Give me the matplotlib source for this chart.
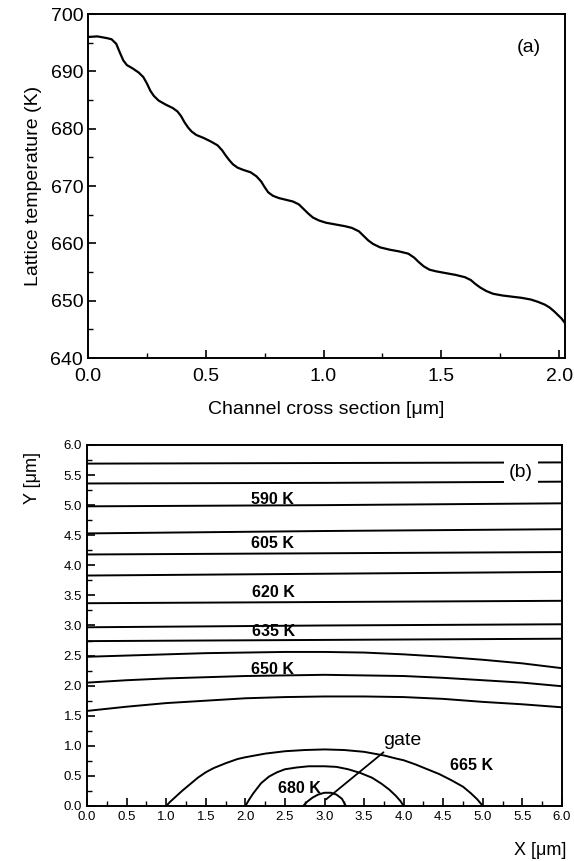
import matplotlib
matplotlib.use("Agg")
import matplotlib.pyplot as plt
from matplotlib.ticker import MultipleLocator

plt.rcParams['font.family'] = ['Liberation Sans', 'DejaVu Sans']

# (a) lattice temperature along the channel
chan_x = [0.00, 0.04, 0.08, 0.10, 0.12, 0.135, 0.15, 0.165, 0.19, 0.215, 0.235, 0.25,
          0.265, 0.28, 0.30, 0.33, 0.36, 0.38, 0.395, 0.41, 0.425, 0.44, 0.46, 0.49,
          0.52, 0.55, 0.57, 0.585, 0.60, 0.615, 0.635, 0.66, 0.69, 0.715, 0.735, 0.75,
          0.765, 0.785, 0.81, 0.84, 0.87, 0.895, 0.915, 0.935, 0.955, 0.98, 1.01, 1.05,
          1.09, 1.12, 1.15, 1.17, 1.19, 1.21, 1.24, 1.28, 1.32, 1.36, 1.385, 1.405,
          1.425, 1.45, 1.48, 1.52, 1.56, 1.60, 1.625, 1.645, 1.665, 1.69, 1.72, 1.76,
          1.80, 1.84, 1.88, 1.91, 1.94, 1.96, 1.98, 1.995, 2.01, 2.025]
chan_t = [696.0, 696.1, 695.8, 695.6, 694.8, 693.3, 691.9, 691.1, 690.5, 689.8, 689.0, 687.9,
          686.6, 685.7, 684.9, 684.2, 683.6, 683.0, 682.2, 681.1, 680.2, 679.5, 678.9, 678.4,
          677.8, 677.1, 676.2, 675.3, 674.5, 673.8, 673.2, 672.8, 672.4, 671.7, 670.8, 669.8,
          668.9, 668.3, 667.9, 667.6, 667.3, 666.8, 666.0, 665.2, 664.5, 664.0, 663.6, 663.3,
          663.0, 662.7, 662.1, 661.3, 660.5, 659.9, 659.3, 658.9, 658.6, 658.2, 657.5, 656.7,
          656.0, 655.4, 655.1, 654.8, 654.5, 654.1, 653.6, 652.9, 652.3, 651.7, 651.2, 650.9,
          650.7, 650.5, 650.2, 649.8, 649.3, 648.8, 648.1, 647.5, 646.9, 646.1]

# (b) isotherms: nearly flat lines (y at x = 0, 3, 6)
flat_x = [0.0, 3.0, 6.0]
flat_lines = [
    [5.69, 5.70, 5.71],
    [5.36, 5.37, 5.39],
    [4.98, 5.00, 5.03],
    [4.53, 4.57, 4.60],
    [4.18, 4.20, 4.22],
    [3.83, 3.86, 3.89],
    [3.37, 3.39, 3.41],
    [2.97, 3.00, 3.02],
    [2.74, 2.76, 2.78],
]

# bowed isotherms
bow_x = [0.0, 0.5, 1.0, 1.5, 2.0, 2.5, 3.0, 3.5, 4.0, 4.5, 5.0, 5.5, 6.0]
bow_lines = [
    [2.48, 2.50, 2.52, 2.54, 2.55, 2.56, 2.56, 2.55, 2.52, 2.48, 2.43, 2.37, 2.29],
    [2.05, 2.09, 2.12, 2.14, 2.16, 2.17, 2.18, 2.17, 2.16, 2.13, 2.09, 2.05, 1.99],
    [1.58, 1.65, 1.71, 1.75, 1.79, 1.81, 1.82, 1.82, 1.81, 1.78, 1.73, 1.69, 1.64],
]

# closed isotherms around the gate
outer_x = [1.0, 1.05, 1.1, 1.2, 1.3, 1.4, 1.5, 1.6, 1.75, 1.9, 2.0, 2.25, 2.5, 2.75,
           3.0, 3.25, 3.5, 3.75, 3.9, 4.0, 4.15, 4.3, 4.45, 4.6, 4.75, 4.85, 4.93, 5.0]
outer_y = [0.0, 0.07, 0.13, 0.25, 0.36, 0.47, 0.56, 0.63, 0.71, 0.78, 0.81, 0.87, 0.91, 0.93,
           0.94, 0.93, 0.90, 0.84, 0.79, 0.76, 0.69, 0.61, 0.53, 0.43, 0.32, 0.21, 0.11, 0.0]
middle_x = [2.0, 2.05, 2.1, 2.2, 2.3, 2.4, 2.5, 2.65, 2.8, 3.0, 3.15, 3.3, 3.45, 3.6,
            3.72, 3.82, 3.9, 3.96, 4.0]
middle_y = [0.0, 0.11, 0.21, 0.38, 0.49, 0.56, 0.61, 0.64, 0.66, 0.66, 0.65, 0.61, 0.55, 0.47,
            0.37, 0.27, 0.17, 0.08, 0.0]
inner_x = [2.73, 2.78, 2.85, 2.92, 3.0, 3.08, 3.15, 3.22, 3.27]
inner_y = [0.0, 0.07, 0.14, 0.19, 0.22, 0.22, 0.19, 0.12, 0.0]

iso_labels = ["590 K", "605 K", "620 K", "635 K", "650 K", "665 K", "680 K"]
iso_label_x = [2.34, 2.34, 2.35, 2.36, 2.34, 4.86, 2.68]
iso_label_y = [5.10, 4.36, 3.55, 2.90, 2.27, 0.67, 0.29]

fig = plt.figure(figsize=(5.74, 8.61), dpi=100)

# ---- panel (a)
ax1 = fig.add_axes([0.1533, 0.5842, 0.831, 0.3995])
ax1.plot(chan_x, chan_t, color='black', lw=1.6, solid_joinstyle='round')
ax1.set_xlim(0, 2.025)
ax1.set_ylim(640, 700)
ax1.xaxis.set_minor_locator(MultipleLocator(0.25))
ax1.yaxis.set_major_locator(MultipleLocator(10))
ax1.yaxis.set_minor_locator(MultipleLocator(5))
ax1.set_xticks([0.0, 0.5, 1.0, 1.5, 2.0])
ax1.set_xticklabels(["0.0", "0.5", "1.0", "1.5", "2.0"])
ax1.tick_params(which='both', direction='in', top=False, right=False, labelsize=14)
ax1.tick_params(axis='x', which='major', pad=7)
ax1.tick_params(which='major', length=6, width=1.2)
ax1.tick_params(which='minor', length=3.5, width=1.0)
ax1.set_xlabel("Channel cross section [\u03bcm]", fontsize=14, labelpad=12)
ax1.set_ylabel("Lattice temperature (K)", fontsize=14, labelpad=6)
ax1.text(1.87, 694.2, "(a)", fontsize=14, ha='center', va='center')
for s in ax1.spines.values():
    s.set_linewidth(1.4)

# ---- panel (b)
ax2 = fig.add_axes([0.1516, 0.0639, 0.8275, 0.4193])
for ys in flat_lines:
    ax2.plot(flat_x, ys, color='black', lw=1.4)
for ys in bow_lines:
    ax2.plot(bow_x, ys, color='black', lw=1.4)
ax2.plot(outer_x, outer_y, color='black', lw=1.4, solid_joinstyle='round')
ax2.plot(middle_x, middle_y, color='black', lw=1.4, solid_joinstyle='round')
ax2.plot(inner_x, inner_y, color='black', lw=1.4, solid_joinstyle='round')

for lab, lx, ly in zip(iso_labels, iso_label_x, iso_label_y):
    ax2.text(lx, ly, lab, fontsize=11.5, fontweight='bold', ha='center', va='center')

ax2.annotate("gate", xy=(3.02, 0.11), xytext=(3.74, 1.08), fontsize=14,
             ha='left', va='center',
             arrowprops=dict(arrowstyle='-', color='black', lw=1.3,
                             shrinkA=0, shrinkB=0, relpos=(0.1, 0.0)))
ax2.text(5.485, 5.54, "(b)", fontsize=14, ha='center', va='center', zorder=5,
         bbox=dict(facecolor='white', edgecolor='none', pad=3.5))

ax2.set_xlim(0, 6)
ax2.set_ylim(0, 6)
ax2.xaxis.set_major_locator(MultipleLocator(0.5))
ax2.xaxis.set_minor_locator(MultipleLocator(0.25))
ax2.yaxis.set_major_locator(MultipleLocator(0.5))
ax2.yaxis.set_minor_locator(MultipleLocator(0.25))
ax2.xaxis.set_major_formatter(lambda v, p: f"{v:.1f}")
ax2.yaxis.set_major_formatter(lambda v, p: f"{v:.1f}")
ax2.tick_params(which='both', direction='in', top=False, right=False, labelsize=9.5)
ax2.tick_params(which='major', length=6, width=1.2)
ax2.tick_params(which='minor', length=3.5, width=1.0)
for s in ax2.spines.values():
    s.set_linewidth(1.4)
ax2.text(0.954, -0.122, "X [\u03bcm]", transform=ax2.transAxes, fontsize=13,
         ha='center', va='center')
ax2.text(-0.114, 0.909, "Y [\u03bcm]", transform=ax2.transAxes, fontsize=13,
         ha='center', va='center', rotation=90)

fig.savefig("out.png", dpi=100)
